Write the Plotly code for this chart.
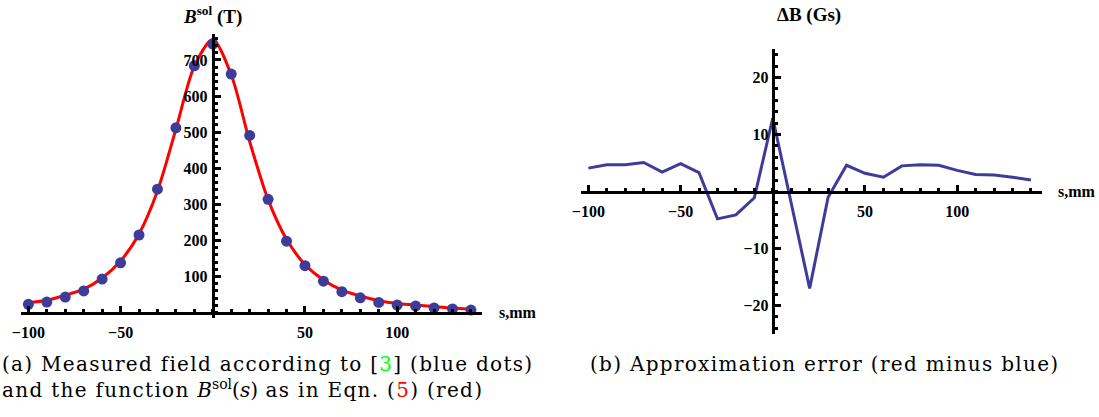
import plotly.graph_objects as go

# Longitudinal position along the solenoid (mm)
s_mm = [-100, -90, -80, -70, -60, -50, -40, -30, -20, -10, 0, 10, 20,
        30, 40, 50, 60, 70, 80, 90, 100, 110, 120, 130, 140]

# Measured field on axis (blue dots)
b_measured = [23, 29, 43, 60, 93, 138, 215, 342, 512, 684, 744, 661, 491,
              314, 198, 130, 87, 58, 41, 28, 21, 18, 13, 10, 7]

# Fitted function B_sol(s) evaluated at the same positions (red curve)
b_fit = [27, 34, 48, 65, 96, 143, 218, 337, 508, 683, 757, 659, 474,
         313, 203, 133, 90, 62, 46, 33, 25, 21, 16, 12.5, 9]

# Approximation error, red minus blue (Gs)
delta_b = [4.1, 4.7, 4.7, 5.1, 3.4, 4.9, 3.3, -4.8, -4.1, -1.1, 12.9, -2, -17,
           -1, 4.6, 3.2, 2.5, 4.5, 4.7, 4.6, 3.7, 3.0, 2.9, 2.5, 2.0]

left_xticks = [-100, -50, 50, 100]
left_yticks = [100, 200, 300, 400, 500, 600, 700]
right_xticks = [-100, -50, 50, 100]
right_yticks = [-20, -10, 10, 20]


def tick_text(vals):
    return ["<b>" + (("\u2212" + str(abs(v))) if v < 0 else str(v)) + "</b>"
            for v in vals]


W, H = 1099, 417
BLUE = "#3d3d99"
TICK_FONT = dict(family="Liberation Serif", size=16, color="black")


def fx(p):
    return p / W


def fy(p):
    return 1 - p / H


def zero_pos(dom, rng):
    # paper coordinate where value 0 falls inside an axis domain
    return dom[0] + (0 - rng[0]) / (rng[1] - rng[0]) * (dom[1] - dom[0])


fig = go.Figure()
fig.add_trace(go.Scatter(x=s_mm, y=b_fit, mode="lines",
                         line=dict(color="red", width=3, shape="spline", smoothing=0.8),
                         xaxis="x", yaxis="y", showlegend=False))
fig.add_trace(go.Scatter(x=s_mm, y=b_measured, mode="markers",
                         marker=dict(color=BLUE, size=11, line=dict(width=0)),
                         xaxis="x", yaxis="y", showlegend=False))
fig.add_trace(go.Scatter(x=s_mm, y=delta_b, mode="lines",
                         line=dict(color=BLUE, width=3),
                         xaxis="x2", yaxis="y2", showlegend=False))

x1_dom, x1_rng = [fx(21), fx(482)], [-104, 146]
y1_dom, y1_rng = [fy(318), fy(34)], [-15, 772]
x2_dom, x2_rng = [fx(581), fx(1042)], [-104, 146]
y2_dom, y2_rng = [fy(334), fy(49)], [-25, 25]

common = dict(showline=True, linecolor="black", linewidth=3, showgrid=False,
              zeroline=False, ticks="inside", ticklen=6, tickwidth=3,
              tickcolor="black", tickfont=TICK_FONT, tickmode="array",
              fixedrange=True, automargin=False)


def minor(step):
    return dict(dtick=step, tick0=0, ticks="inside", ticklen=3, tickwidth=2.5,
                tickcolor="black", showgrid=False)


fig.update_layout(
    width=W, height=H, autosize=False,
    margin=dict(l=0, r=0, t=0, b=0, pad=0),
    paper_bgcolor="white", plot_bgcolor="rgba(0,0,0,0)",
    xaxis=dict(common, domain=x1_dom, range=x1_rng, anchor="free",
               position=zero_pos(y1_dom, y1_rng),
               tickvals=left_xticks, ticktext=tick_text(left_xticks),
               minor=minor(10), ticklabelstandoff=4),
    yaxis=dict(common, domain=y1_dom, range=y1_rng, anchor="free",
               position=zero_pos(x1_dom, x1_rng),
               tickvals=left_yticks, ticktext=tick_text(left_yticks),
               minor=minor(20), ticklabelstandoff=1),
    xaxis2=dict(common, domain=x2_dom, range=x2_rng, anchor="free",
                position=zero_pos(y2_dom, y2_rng),
                tickvals=right_xticks, ticktext=tick_text(right_xticks),
                minor=minor(10), ticklabelstandoff=4),
    yaxis2=dict(common, domain=y2_dom, range=y2_rng, anchor="free",
                position=zero_pos(x2_dom, x2_rng),
                tickvals=right_yticks, ticktext=tick_text(right_yticks),
                minor=minor(2), ticklabelstandoff=0),
)

LABEL_FONT = dict(family="Liberation Serif", size=16, color="black")
CAPTION_FONT = dict(family="DejaVu Serif", size=20, color="black")
SP = "letter-spacing:1.3px"
SPACED = "<span style='" + SP + "'>{}</span>"

annotations = [
    dict(text="<b><i>B</i><sup>sol</sup> (T)</b>", x=fx(212), y=fy(15),
         xanchor="center", yanchor="middle",
         font=dict(family="Liberation Serif", size=19, color="black")),
    dict(text="<b>\u0394B (Gs)</b>", x=fx(775), y=fy(15),
         xanchor="left", yanchor="middle",
         font=dict(family="Liberation Serif", size=19, color="black")),
    dict(text="<b>s,mm</b>", x=fx(497), y=fy(312), xanchor="left",
         yanchor="middle", font=LABEL_FONT),
    dict(text="<b>s,mm</b>", x=fx(1056), y=fy(191), xanchor="left",
         yanchor="middle", font=LABEL_FONT),
    dict(text=SPACED.format("(a) Measured field according to [")
         + "<span style='color:#00ff00;" + SP + "'>3</span>"
         + SPACED.format("] (blue dots)")
         + "<br>" + SPACED.format("and the function ")
         + "<i>B</i><sup>sol</sup>(<i>s</i>)"
         + SPACED.format(" as in Eqn. (")
         + "<span style='color:#ff0000;" + SP + "'>5</span>"
         + SPACED.format(") (red)"),
         x=fx(0), y=fy(377), xanchor="left", yanchor="middle", align="left",
         font=CAPTION_FONT),
    dict(text=SPACED.format("(b) Approximation error (red minus blue)"),
         x=fx(588), y=fy(364),
         xanchor="left", yanchor="middle", align="left", font=CAPTION_FONT),
]
for a in annotations:
    a.update(xref="paper", yref="paper", showarrow=False)
fig.update_layout(annotations=annotations)

fig.write_html("out.html")
